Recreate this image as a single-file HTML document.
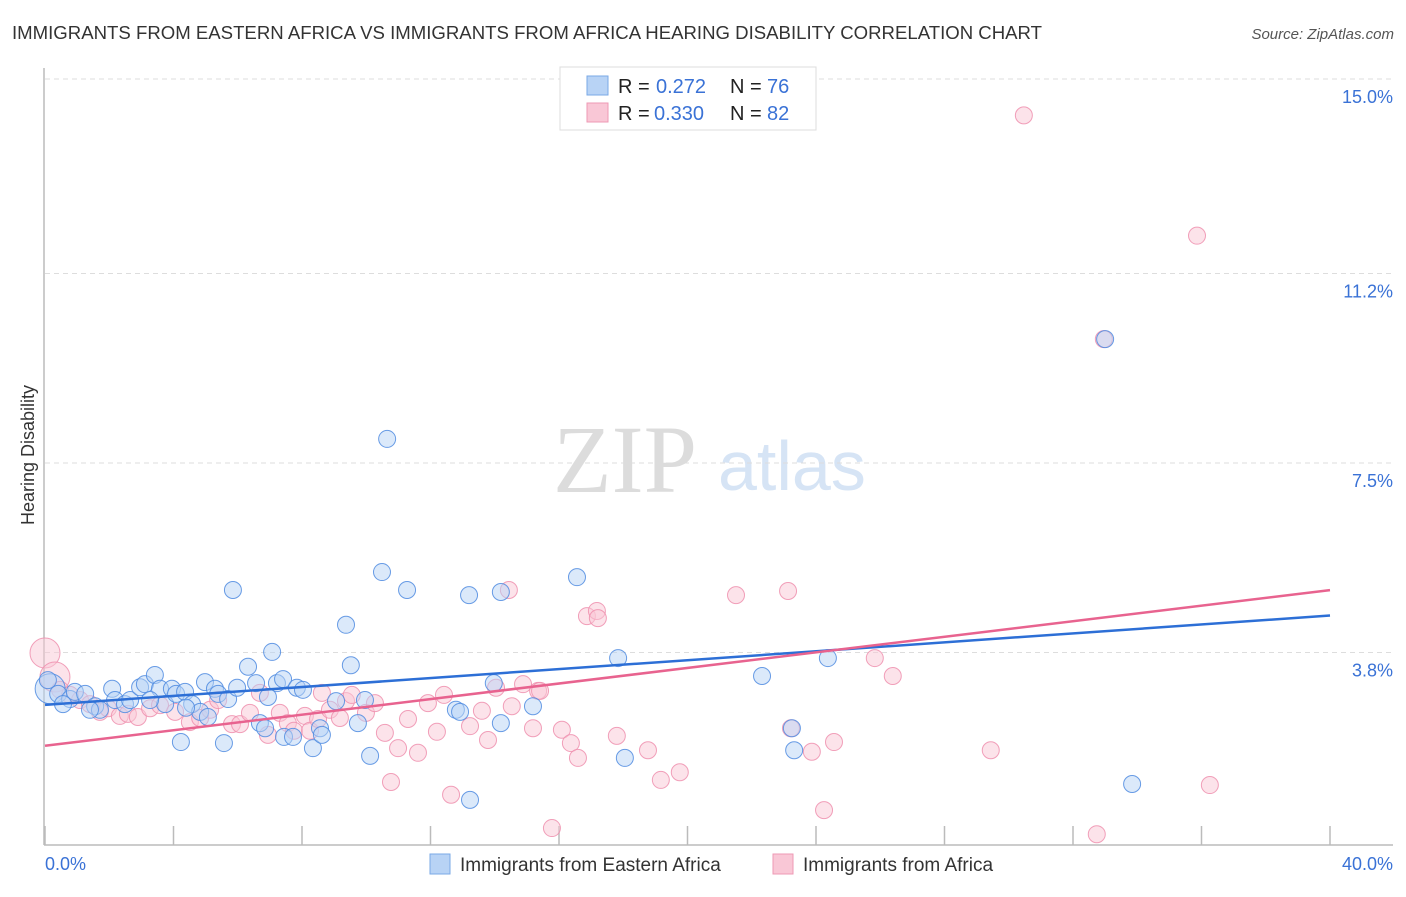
<!DOCTYPE html>
<html><head><meta charset="utf-8"><style>
body{margin:0;background:#fff;font-family:"Liberation Sans",sans-serif;}
</style></head><body>
<svg id="chart" width="1406" height="892" xmlns="http://www.w3.org/2000/svg" font-family="Liberation Sans, sans-serif">
<text x="12" y="39" font-size="18.6" fill="#333">IMMIGRANTS FROM EASTERN AFRICA VS IMMIGRANTS FROM AFRICA HEARING DISABILITY CORRELATION CHART</text>
<text x="1394" y="39" font-size="15" fill="#555" font-style="italic" text-anchor="end">Source: ZipAtlas.com</text>
<text x="34" y="455" font-size="18" fill="#333" transform="rotate(-90 34 455)" text-anchor="middle">Hearing Disability</text>
<text x="553" y="492" font-size="96" fill="#dcdcdc" style="font-family:'Liberation Serif',serif">ZIP</text>
<text x="718" y="490" font-size="70" fill="#d6e4f5">atlas</text>
<g id="grid"></g><g id="axes"></g><g id="pts"></g><g id="trend"></g>
<g>
<rect x="560" y="67" width="256" height="63" fill="#fff" stroke="#ddd"/>
<rect x="587" y="76" width="21" height="19" fill="#b8d3f5" stroke="#7aa8e6"/>
<text x="618" y="93" font-size="20" fill="#222">R = </text><text x="656" y="93" font-size="20" fill="#3a72d6">0.272</text>
<text x="730" y="93" font-size="20" fill="#222">N = </text><text x="767" y="93" font-size="20" fill="#3a72d6">76</text>
<rect x="587" y="103" width="21" height="19" fill="#f9c7d6" stroke="#ee9ab4"/>
<text x="618" y="120" font-size="20" fill="#222">R = </text><text x="654" y="120" font-size="20" fill="#3a72d6">0.330</text>
<text x="730" y="120" font-size="20" fill="#222">N = </text><text x="767" y="120" font-size="20" fill="#3a72d6">82</text>
</g>
<g>
<rect x="430" y="854" width="20" height="20" fill="#b8d3f5" stroke="#7aa8e6"/>
<text x="460" y="871" font-size="19" fill="#333">Immigrants from Eastern Africa</text>
<rect x="773" y="854" width="20" height="20" fill="#f9c7d6" stroke="#ee9ab4"/>
<text x="803" y="871" font-size="19" fill="#333">Immigrants from Africa</text>
</g>
</svg>
<script>
const yTicks=[3.8,7.5,11.2,15.0];
const yTickLabels=["3.8%","7.5%","11.2%","15.0%"];
const xTicks=[0,4,8,12,16,20,24,28,32,36,40];
const xEndLabels=["0.0%","40.0%"];
const blueX=[0.16,0.41,0.78,0.93,1.25,1.56,1.71,2.09,2.18,2.49,2.65,2.96,3.11,3.42,3.58,3.74,3.95,4.08,4.23,4.36,4.58,4.83,4.98,5.29,5.39,5.57,5.70,5.98,6.32,5.85,6.57,6.69,6.85,7.07,7.22,7.41,7.44,7.72,7.84,8.03,8.34,8.56,8.62,9.06,9.37,9.52,9.74,10.12,10.49,10.65,11.27,13.20,13.23,13.97,14.19,14.19,15.19,16.56,17.84,18.05,22.32,23.25,23.32,24.37,33.00,33.84,12.79,12.92,0.09,9.96,5.07,3.27,1.40,0.56,4.39,6.94];
const blueY=[3.09,2.99,2.89,3.03,2.99,2.75,2.68,3.09,2.87,2.79,2.87,3.12,3.18,3.36,3.09,2.79,3.09,2.99,2.05,3.03,2.79,2.64,3.22,3.09,2.99,2.03,2.89,3.11,3.52,5.02,3.20,2.42,2.32,3.81,3.20,3.28,2.15,2.15,3.11,3.07,1.93,2.32,2.19,2.85,4.34,3.55,2.42,1.78,5.37,7.97,5.02,4.92,0.92,3.20,2.42,4.98,2.75,5.27,3.69,1.74,3.34,2.32,1.89,3.69,9.92,1.23,2.68,2.64,3.26,2.87,2.54,2.87,2.68,2.79,2.72,2.93];
const pinkX=[0.00,0.31,0.47,0.78,1.09,1.40,1.71,1.96,2.33,2.58,2.89,3.27,3.58,4.05,4.51,4.83,5.14,5.39,5.82,6.07,6.38,6.69,6.94,7.31,7.56,7.75,8.09,8.25,8.50,8.62,8.87,9.18,9.37,9.55,9.99,10.27,10.58,10.77,10.99,11.30,11.61,11.92,12.20,12.42,12.64,13.23,13.60,13.79,14.04,14.44,14.53,14.88,15.19,15.35,15.78,16.09,16.37,16.59,16.87,17.18,17.21,17.80,18.77,19.17,19.76,21.51,23.13,23.22,23.87,24.25,24.56,25.83,26.39,29.44,30.47,32.74,32.96,35.86,36.26,15.41];
const pinkY=[3.79,3.32,3.07,2.97,2.87,2.79,2.64,2.71,2.56,2.60,2.54,2.71,2.77,2.64,2.44,2.52,2.68,2.87,2.40,2.40,2.62,3.01,2.19,2.62,2.42,2.27,2.56,2.27,2.50,3.01,2.68,2.52,2.85,2.97,2.62,2.81,2.23,1.27,1.93,2.50,1.84,2.81,2.25,2.97,1.02,2.36,2.66,2.09,3.11,5.02,2.75,3.18,2.32,3.05,0.37,2.29,2.03,1.74,4.51,4.61,4.47,2.17,1.89,1.31,1.46,4.92,5.00,2.32,1.86,0.72,2.05,3.69,3.34,1.89,14.29,0.25,9.92,11.94,1.21,3.05];
const X0=45,X1=1330,Y0=847,PX_PER_PCT=192/3.75;
const xs=v=>X0+(v/40)*(X1-X0);
const ys=v=>Y0-v*PX_PER_PCT;
const NS="http://www.w3.org/2000/svg";
function mk(t,a,p){const e=document.createElementNS(NS,t);for(const k in a)e.setAttribute(k,a[k]);p.appendChild(e);return e;}
const gridG=document.getElementById('grid'),axesG=document.getElementById('axes'),ptsG=document.getElementById('pts'),trendG=document.getElementById('trend');
yTicks.forEach((v,i)=>{
 const l=mk('line',{x1:45,x2:1393,y1:ys(v),y2:ys(v),stroke:'#ddd','stroke-dasharray':'5,4'},gridG);
 
 
 const t=mk('text',{x:1393,y:ys(v)+24,'font-size':18,fill:'#3a72d6','text-anchor':'end'},gridG);
 t.textContent=yTickLabels[i];
 
 
});
const yAxisLine=mk('line',{x1:44,x2:44,y1:68,y2:845,stroke:'#bbb','stroke-width':1.5},axesG);


const xAxisLine=mk('line',{x1:44,x2:1393,y1:845,y2:845,stroke:'#bbb','stroke-width':1.5},axesG);


xTicks.forEach(v=>{
 const t=mk('line',{x1:xs(v),x2:xs(v),y1:826,y2:845,stroke:'#bbb','stroke-width':1.5},axesG);
 
 
});
const xl0=mk('text',{x:45,y:870,'font-size':18,fill:'#3a72d6'},axesG);xl0.textContent=xEndLabels[0];


const xl1=mk('text',{x:1393,y:870,'font-size':18,fill:'#3a72d6','text-anchor':'end'},axesG);xl1.textContent=xEndLabels[1];


function drawSeries(X,Y,fill,stroke,name,bigIdx){
 X.forEach((v,i)=>{
  const r=bigIdx.includes(i)?15:8.5;
  const c=mk('circle',{cx:xs(v),cy:ys(Y[i]),r:r,fill:fill,'fill-opacity':0.5,stroke:stroke,'stroke-width':1,'stroke-opacity':0.85},ptsG);
  
  
 });
}
drawSeries(pinkX,pinkY,'#f9c7d6','#ee8fae','point-africa',[0,1]);
drawSeries(blueX,blueY,'#b8d3f5','#4f8be0','point-eastern-africa',[0]);
function fit(X,Y){const n=X.length;let mx=0,my=0;X.forEach((v,i)=>{mx+=v;my+=Y[i];});mx/=n;my/=n;let sxy=0,sxx=0;X.forEach((v,i)=>{sxy+=(v-mx)*(Y[i]-my);sxx+=(v-mx)*(v-mx);});const b=sxy/sxx;return [my-b*mx,b];}
function drawTrend(X,Y,col,name){const [a,b]=fit(X,Y);const l=mk('line',{x1:xs(0),y1:ys(a),x2:xs(40),y2:ys(a+b*40),stroke:col,'stroke-width':2.5},trendG);
 
 }
drawTrend(blueX,blueY,'#2d6fd6','trend-line-eastern-africa');
drawTrend(pinkX,pinkY,'#e8638f','trend-line-africa');
</script>
</body></html>
